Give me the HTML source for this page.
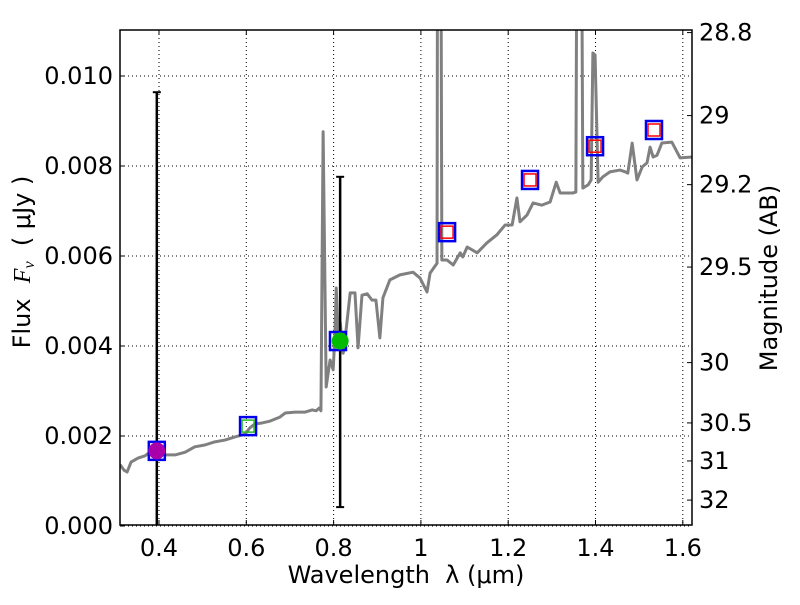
<!DOCTYPE html>
<html><head><meta charset="utf-8"><style>
body{margin:0;background:#fff;font-family:"Liberation Sans","DejaVu Sans",sans-serif}
svg text{font-family:"DejaVu Sans","Liberation Sans",sans-serif;fill:#000;white-space:pre}
</style></head><body>
<svg id="chart" width="800" height="600" xmlns="http://www.w3.org/2000/svg"></svg>
<script>
const specLambda=[0.311,0.320,0.327,0.336,0.352,0.368,0.379,0.400,0.414,0.437,0.460,0.482,0.505,0.528,0.551,0.574,0.597,0.608,0.620,0.636,0.654,0.677,0.689,0.712,0.734,0.751,0.760,0.767,0.771,0.776,0.783,0.787,0.792,0.799,0.803,0.806,0.810,0.815,0.822,0.826,0.838,0.849,0.856,0.865,0.877,0.888,0.897,0.906,0.913,0.929,0.952,0.982,0.998,1.014,1.021,1.037,1.039,1.044,1.048,1.060,1.074,1.090,1.096,1.106,1.129,1.151,1.174,1.193,1.209,1.220,1.227,1.243,1.257,1.277,1.296,1.310,1.319,1.348,1.355,1.360,1.365,1.371,1.383,1.390,1.394,1.399,1.406,1.417,1.433,1.456,1.468,1.474,1.484,1.495,1.507,1.518,1.525,1.532,1.541,1.552,1.575,1.594,1.621];
const specFlux=[1.36,1.24,1.20,1.42,1.51,1.56,1.64,1.69,1.58,1.58,1.64,1.76,1.80,1.87,1.91,1.98,2.04,2.18,2.27,2.29,2.33,2.42,2.51,2.53,2.53,2.58,2.56,2.62,2.56,8.76,3.09,3.36,3.69,3.47,4.24,5.29,4.36,4.53,3.84,4.13,5.18,5.18,3.96,5.13,5.16,5.02,5.02,4.18,5.07,5.47,5.58,5.64,5.51,5.20,5.62,5.84,20,20,5.91,5.91,5.80,6.07,5.98,6.20,6.07,6.29,6.47,6.69,6.69,7.29,6.76,6.91,7.18,7.13,7.20,7.64,7.40,7.40,7.42,20,20,7.51,7.58,7.69,10.51,10.47,7.64,7.76,7.87,7.91,7.87,7.84,8.51,7.69,7.98,8.07,8.42,8.20,8.24,8.51,8.53,8.18,8.20];
const bandLambda=[0.395,0.604,0.810,1.06,1.25,1.399,1.534];
const bandFlux=[1.67,2.22,4.11,6.53,7.69,8.44,8.80];
const innerColors=["none","#22bb22","none","red","red","red","red"];
const obsLambda=[0.395,0.815];
const obsFlux=[1.67,4.11];
const obsLow=[-1,0.42];
const obsHigh=[9.64,7.76];
const obsColors=["#aa00aa","#00bb00"];
const xTicks=[0.4,0.6,0.8,1.0,1.2,1.4,1.6];
const xTickLabels=["0.4","0.6","0.8","1","1.2","1.4","1.6"];
const yTicks=[0,2,4,6,8,10];
const yTickLabels=["0.000","0.002","0.004","0.006","0.008","0.010"];
const magTicks=[28.8,29,29.2,29.5,30,30.5,31,32];
const magLabels=["28.8","29","29.2","29.5","30","30.5","31","32"];

const L=120,R=692,T=30,B=525;
const X=v=>159+(v-0.4)*436.5;
const Y=f=>526-f*45;
const svg=document.getElementById('chart');
const NS='http://www.w3.org/2000/svg';
function mk(tag,attrs,parent){const e=document.createElementNS(NS,tag);for(const k in attrs)e.setAttribute(k,attrs[k]);(parent||svg).appendChild(e);return e;}
const defs=mk('defs',{});const cp=mk('clipPath',{id:'clip'},defs);mk('rect',{x:L,y:T,width:R-L,height:B-T},cp);

xTicks.forEach((v,i)=>{
  const g=mk('line',{x1:X(v),x2:X(v),y1:T,y2:B,stroke:'#000','stroke-width':1,'stroke-dasharray':'1,3'});
  
  
  mk('line',{x1:X(v),x2:X(v),y1:B,y2:B-5,stroke:'#000'});
  mk('line',{x1:X(v),x2:X(v),y1:T,y2:T+5,stroke:'#000'});
  const t=mk('text',{x:X(v),y:556,'font-size':24,'text-anchor':'middle'});t.textContent=xTickLabels[i];
  
  
});
yTicks.forEach((v,i)=>{
  const g=mk('line',{x1:L,x2:R,y1:Y(v),y2:Y(v),stroke:'#000','stroke-width':1,'stroke-dasharray':'1,3'});
  
  
  mk('line',{x1:L,x2:L+5,y1:Y(v),y2:Y(v),stroke:'#000'});
  const t=mk('text',{x:113,y:Y(v)+8,'font-size':24,'text-anchor':'end'});t.textContent=yTickLabels[i];
  
  
});
magTicks.forEach((m,i)=>{
  const f=Math.pow(10,(23.9-m)/2.5)*1000;
  const y=Y(f);
  mk('line',{x1:R-5,x2:R,y1:y,y2:y,stroke:'#000'});
  const t=mk('text',{x:699,y:y+8,'font-size':24});t.textContent=magLabels[i];
  
  
});

const plot=mk('g',{'clip-path':'url(#clip)'});


const spec=mk('polyline',{points:specLambda.map((l,i)=>X(l)+','+Y(specFlux[i])).join(' '),fill:'none',stroke:'#808080','stroke-width':3,'stroke-linejoin':'round'},plot);



obsLambda.forEach((l,i)=>{
  const e=mk('line',{x1:X(l),x2:X(l),y1:Y(obsHigh[i]),y2:Y(obsLow[i]),stroke:'#000','stroke-width':2.5},plot);
  
  
  mk('line',{x1:X(l)-4,x2:X(l)+4,y1:Y(obsHigh[i]),y2:Y(obsHigh[i]),stroke:'#000','stroke-width':2},plot);
  mk('line',{x1:X(l)-4,x2:X(l)+4,y1:Y(obsLow[i]),y2:Y(obsLow[i]),stroke:'#000','stroke-width':2},plot);
});
bandLambda.forEach((l,i)=>{
  const cx=X(l),cy=Y(bandFlux[i]);
  const s=mk('rect',{x:cx-8,y:cy-9,width:16,height:18,fill:'none',stroke:'#0000ee','stroke-width':2.5},plot);
  
  
  if(innerColors[i]!=='none'){
    mk('rect',{x:cx-6,y:cy-6,width:12,height:12,fill:'none',stroke:innerColors[i],'stroke-width':1.5},plot);
  }
});
obsLambda.forEach((l,i)=>{
  const c=mk('circle',{cx:X(l),cy:Y(obsFlux[i]),r:8.5,fill:obsColors[i]},plot);
  
  
});

const frame=mk('rect',{x:L,y:T,width:R-L,height:B-T,fill:'none',stroke:'#000','stroke-width':1.5});



const xl=mk('text',{x:406,y:583,'font-size':24,'text-anchor':'middle'});xl.textContent='Wavelength  λ (μm)';


const yl=mk('text',{x:0,y:0,'font-size':24,'text-anchor':'middle',transform:'translate(30,262) rotate(-90)'});yl.innerHTML='Flux  <tspan font-style="italic" font-family="Liberation Serif,serif">F</tspan><tspan font-size="16" dy="4" font-style="italic" font-family="Liberation Serif,serif">ν</tspan><tspan dy="-4">  ( μJy )</tspan>';


const ml=mk('text',{x:0,y:0,'font-size':24,'text-anchor':'middle',transform:'translate(777,278) rotate(-90)'});ml.textContent='Magnitude (AB)';


</script>
</body></html>
